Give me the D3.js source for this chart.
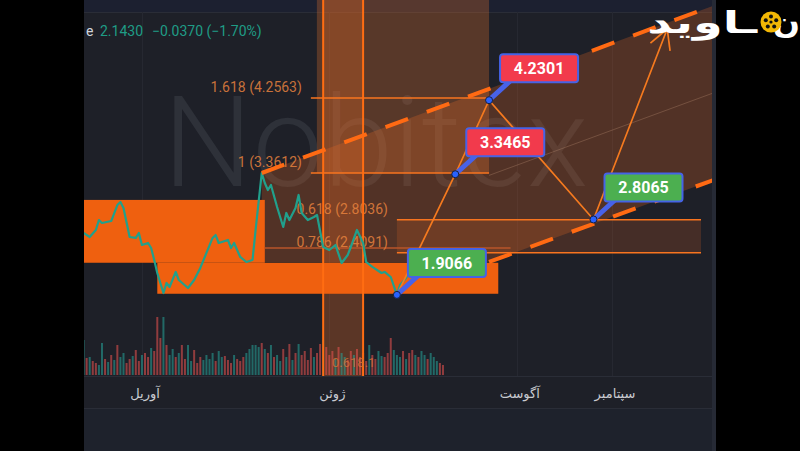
<!DOCTYPE html>
<html><head><meta charset="utf-8">
<script src="https://cdn.jsdelivr.net/npm/d3@7"></script>
<style>html,body{margin:0;padding:0;background:#000;overflow:hidden}</style>
</head><body><svg id="c" width="800" height="451"></svg>
<script>
// ---- data (days are offsets from 1 April 2024) ----
const priceDay=[-20,-18,-16,-15,-14,-11,-9,-8,-7,-5,-3,-2,-1,1,2,3,4,6,7,8,10,11,14,16,18,20,22,23,24,27,28,29,31,33,35,36,38,39,40,41,43,45,46,47,49,50,51,53,55,56,58,60,62,64,66,67,69,71,72,74,77,78,80,82,83,85,86,88,89,90,92,94,95,97];
const priceClose=[2.645,2.597,2.681,2.800,2.765,2.788,2.979,3.015,2.944,2.597,2.586,2.645,2.502,2.526,2.466,2.323,2.168,1.929,2.049,2.001,2.180,2.084,1.989,2.084,2.228,2.407,2.586,2.621,2.526,2.562,2.466,2.526,2.359,2.299,2.323,2.681,3.361,3.242,3.158,3.218,2.955,2.717,2.884,2.800,2.944,3.099,2.884,2.800,2.836,2.860,2.478,2.442,2.502,2.287,2.383,2.478,2.681,2.526,2.299,2.240,2.168,2.180,2.120,1.907,2.025,2.108,2.180,2.120,2.240,2.144,2.263,2.144,2.180,2.143];
const volumeFirstDay=-20;
const volume=[35,17,18,14,12,10,32,16,13,20, 15,30,18,22,12,16,19,25,14,20, 22,18,27,24,58,37,58,30,20,26, 18,22,30,16,30,14,25,12,18,15, 20,16,22,14,24,18,19,15,12,20, 16,14,18,22,26,30,30,28,32,26, 22,30,18,20,14,26,18,31,15,22, 31,20,24,15,27,18,22,31,35,28, 20,24,16,28,22,18,15,24,20,26, 18,22,14,30,20,16,24,19,18,22, 37,25,20,18,24,16,22,25,20,18, 24,20,16,22,18,14,12,10];
const volumeDir="ududduudud"+"uduudduddu"+"dduddduduu"+"dudduudddu"+"uuuduudddu"+"ddduuuuudu"+"duduududud"+"udddduddud"+"dduduuddud"+"dddudduudd"+"duuududdud"+"uuduuudd";
const monthLabels=["آوریل","ژوئن","آگوست","سپتامبر"];
const monthIndex=[3,5,7,8];
const fibLevels=[
 {ratio:"1.618",price:4.2563,from:54,to:112},
 {ratio:"1",price:3.3612,from:54,to:112},
 {ratio:"0.618",price:2.8036,from:82,to:181},
 {ratio:"0.786",price:2.4091,from:82,to:181}];
const zones=[{from:-20,to:39,top:3.04,bottom:2.29},{from:4,to:115,top:2.29,bottom:1.92}];
const projDay=[82,101,112,146,170];
const projPrice=[1.9066,3.3465,4.2301,2.8065,5.08];
const calloutDay=[112,101,146,82];
const calloutPrice=[4.2301,3.3465,2.8065,1.9066];
const calloutKind=["down","down","up","up"];
const upperChannel=[[38,3.3612],[186,5.37]];
const lowerChannel=[[112,2.30],[186,3.29]];
const verticalDays=[58,71];
const header={prefix:"e",close:"2.1430",change:"−0.0370 (−1.70%)"};

// ---- scales ----
const svg=d3.select("#c");
const base=new Date(2024,3,1).getTime();
const x=d3.scaleTime().domain([new Date(2024,3,1),new Date(2024,8,1)]).range([145,615]);
const xd=d=>x(new Date(base+d*864e5));
const y=d3.scaleLinear().domain([3.3612,4.2563]).range([173,98]);
const yv=d3.scaleLinear().domain([0,60]).range([375,315]);
const FONT="Roboto, 'DejaVu Sans', sans-serif";
const FA="'DejaVu Sans', sans-serif";

// ---- background ----
svg.append("rect").attr("width",800).attr("height",451).attr("fill","#000");
svg.append("rect").attr("x",84).attr("y",0).attr("width",632).attr("height",451).attr("fill","#1e2028");
svg.append("rect").attr("x",84).attr("y",408).attr("width",632).attr("height",43).attr("fill","#1e222c");
svg.append("rect").attr("x",84).attr("y",0).attr("width",632).attr("height",12).attr("fill","#1c2030");
svg.append("rect").attr("x",712).attr("y",0).attr("width",4).attr("height",451).attr("fill","#262a35");
[12,376,408].forEach(v=>svg.append("line").attr("x1",84).attr("x2",712).attr("y1",v+0.5).attr("y2",v+0.5).attr("stroke","#2a2d37"));

const defs=svg.append("defs");
defs.append("clipPath").attr("id","pane").append("rect").attr("x",84).attr("y",0).attr("width",628).attr("height",376);
const g=svg.append("g").attr("clip-path","url(#pane)");

// grid
monthIndex.forEach(m=>{const xx=Math.round(x(new Date(2024,m,1)))-2.5;
 g.append("line").attr("x1",xx).attr("x2",xx).attr("y1",12).attr("y2",376).attr("stroke","#262831");});

// watermark
g.append("text").attr("x",163).attr("y",186).attr("font-family",FONT).attr("font-weight",300)
 .attr("font-size",126).attr("fill","#2e3139").text("Nobitex");

// translucent drawings
const poly=[[upperChannel[0][0],upperChannel[0][1]],upperChannel[1],lowerChannel[1],lowerChannel[0],[upperChannel[0][0],lowerChannel[0][1]]];
g.append("path").attr("d","M"+poly.map(p=>[xd(p[0]),y(p[1])].join(",")).join("L")+"Z").attr("fill","rgba(232,105,35,0.26)");
g.append("rect").attr("x",xd(fibLevels[0].from)+6).attr("y",0).attr("width",xd(fibLevels[0].to)-xd(fibLevels[0].from)-6)
 .attr("height",y(fibLevels[1].price)).attr("fill","rgba(240,118,48,0.28)");
g.append("rect").attr("x",xd(verticalDays[0])).attr("y",0).attr("width",xd(verticalDays[1])-xd(verticalDays[0])).attr("height",376).attr("fill","rgba(235,105,35,0.3)");
g.append("rect").attr("x",xd(fibLevels[2].from)).attr("y",y(fibLevels[2].price)).attr("width",xd(fibLevels[2].to)-xd(fibLevels[2].from))
 .attr("height",y(fibLevels[3].price)-y(fibLevels[2].price)).attr("fill","rgba(225,100,35,0.2)");

// solid zones
zones.forEach(z=>g.append("rect").attr("x",xd(z.from)).attr("y",y(z.top)).attr("width",xd(z.to)-xd(z.from)).attr("height",y(z.bottom)-y(z.top)).attr("fill","#ef600f"));

// volume
volume.forEach((v,i)=>{const d=volumeFirstDay+i;
 g.append("rect").attr("x",xd(d)-1).attr("y",yv(v)).attr("width",2).attr("height",yv(0)-yv(v))
  .attr("fill",volumeDir[i]==="u"?"rgba(38,166,154,0.55)":"rgba(239,83,80,0.55)");});

// fib lines
g.append("line").attr("x1",xd(39)).attr("x2",xd(119)).attr("y1",y(2.466)).attr("y2",y(2.466)).attr("stroke","#b8542a").attr("stroke-width",1.5);
fibLevels.forEach(f=>{
 g.append("line").attr("x1",xd(f.from)).attr("x2",xd(f.to)).attr("y1",y(f.price)).attr("y2",y(f.price)).attr("stroke","#f8741f").attr("stroke-width",1.6);
 g.append("text").attr("x",xd(f.from)-9).attr("y",y(f.price)-6).attr("text-anchor","end").attr("font-family",FONT)
  .attr("font-size",14).attr("fill","#e8823e").attr("fill-opacity",0.85).text(`${f.ratio} (${f.price.toFixed(4)})`);});
verticalDays.forEach(d=>g.append("line").attr("x1",xd(d)).attr("x2",xd(d)).attr("y1",0).attr("y2",376).attr("stroke","#ff6d12").attr("stroke-width",2));
g.append("text").attr("x",332).attr("y",367).attr("font-family",FONT).attr("font-size",13).attr("fill","#d8743a").attr("fill-opacity",0.8).text("0.618.1");

// price line
const line=d3.line().x((d,i)=>xd(priceDay[i])).y(d=>y(d));
g.append("path").datum(priceClose).attr("d",line).attr("fill","none").attr("stroke","#21a08c").attr("stroke-width",2.2).attr("stroke-linejoin","round");

// channel dashed
[upperChannel,lowerChannel].forEach(c=>g.append("line").attr("x1",xd(c[0][0])).attr("y1",y(c[0][1])).attr("x2",xd(c[1][0])).attr("y2",y(c[1][1]))
 .attr("stroke","#ff6a13").attr("stroke-width",4).attr("stroke-dasharray","24,20"));
// channel middle faint
g.append("line").attr("x1",xd(lowerChannel[0][0])).attr("y1",(y(lowerChannel[0][1])+y(upperChannel[0][1]+(upperChannel[1][1]-upperChannel[0][1])*(lowerChannel[0][0]-upperChannel[0][0])/(upperChannel[1][0]-upperChannel[0][0])))/2)
 .attr("x2",xd(186)).attr("y2",(y(lowerChannel[1][1])+y(upperChannel[1][1]))/2).attr("stroke","rgba(220,170,140,0.25)").attr("stroke-width",1);

// projection zigzag
const pl=d3.line().x((d,i)=>xd(projDay[i])).y(d=>y(d));
g.append("path").datum(projPrice).attr("d",pl).attr("fill","none").attr("stroke","#f57a1f").attr("stroke-width",1.7);
{const n=projDay.length;const tx=xd(projDay[n-1]),ty=y(projPrice[n-1]),px=xd(projDay[n-2]),py=y(projPrice[n-2]);
 const a=Math.atan2(py-ty,px-tx);[-0.5,0.5].forEach(s=>g.append("line").attr("x1",tx).attr("y1",ty)
 .attr("x2",tx+22*Math.cos(a+s)).attr("y2",ty+22*Math.sin(a+s)).attr("stroke","#f57a1f").attr("stroke-width",1.7));}

// callouts
calloutDay.forEach((d,i)=>{const px=xd(d),py=y(calloutPrice[i]);
 g.append("line").attr("x1",px).attr("y1",py).attr("x2",px+22).attr("y2",py-20).attr("stroke","#4862e8").attr("stroke-width",5).attr("stroke-linecap","round");
 g.append("rect").attr("x",px+11).attr("y",py-46).attr("width",78).attr("height",28).attr("rx",3)
  .attr("fill",calloutKind[i]==="down"?"#f23a4c":"#4caf50").attr("stroke","#4563e6").attr("stroke-width",2);
 g.append("text").attr("x",px+50).attr("y",py-26).attr("text-anchor","middle").attr("font-family",FONT).attr("font-weight","bold")
  .attr("font-size",16).attr("fill","#fff").text(calloutPrice[i].toFixed(4));
 g.append("circle").attr("cx",px).attr("cy",py).attr("r",3.5).attr("fill","#2962ff").attr("stroke","#172040").attr("stroke-width",1);});

// header
svg.append("text").attr("x",86).attr("y",36).attr("font-family",FONT).attr("font-size",14).attr("fill","#d1d4dc").text(header.prefix);
svg.append("text").attr("x",100).attr("y",36).attr("font-family",FONT).attr("font-size",14).attr("fill","#1f9c86").text(header.close);
svg.append("text").attr("x",152).attr("y",36).attr("font-family",FONT).attr("font-size",14).attr("fill","#1f9c86").text(header.change);

// time axis
monthIndex.forEach((m,i)=>svg.append("text").attr("x",x(new Date(2024,m,1))).attr("y",398).attr("text-anchor","middle")
 .attr("font-family",FA).attr("font-size",13).attr("fill","#c9cbd1").text(monthLabels[i]));

// logo
svg.append("text").attr("transform","translate(757,33) scale(1.65,1.05)").attr("text-anchor","end").attr("font-family",FA).attr("font-weight","bold").attr("font-size",29).attr("fill","#fff").text("ـاوید");
svg.append("text").attr("transform","translate(800,33) scale(1.1,1.05)").attr("text-anchor","end").attr("font-family",FA).attr("font-weight","bold").attr("font-size",29).attr("fill","#fff").text("ن");
svg.append("circle").attr("cx",771).attr("cy",22).attr("r",10.5).attr("fill","#f2b705");
[[0,0],[0,-5.5],[5.2,-1.7],[3.2,4.5],[-3.2,4.5],[-5.2,-1.7]].forEach(p=>svg.append("circle").attr("cx",771+p[0]).attr("cy",22+p[1]).attr("r",p[0]===0&&p[1]===0?1.6:2).attr("fill","#111"));
</script></body></html>
